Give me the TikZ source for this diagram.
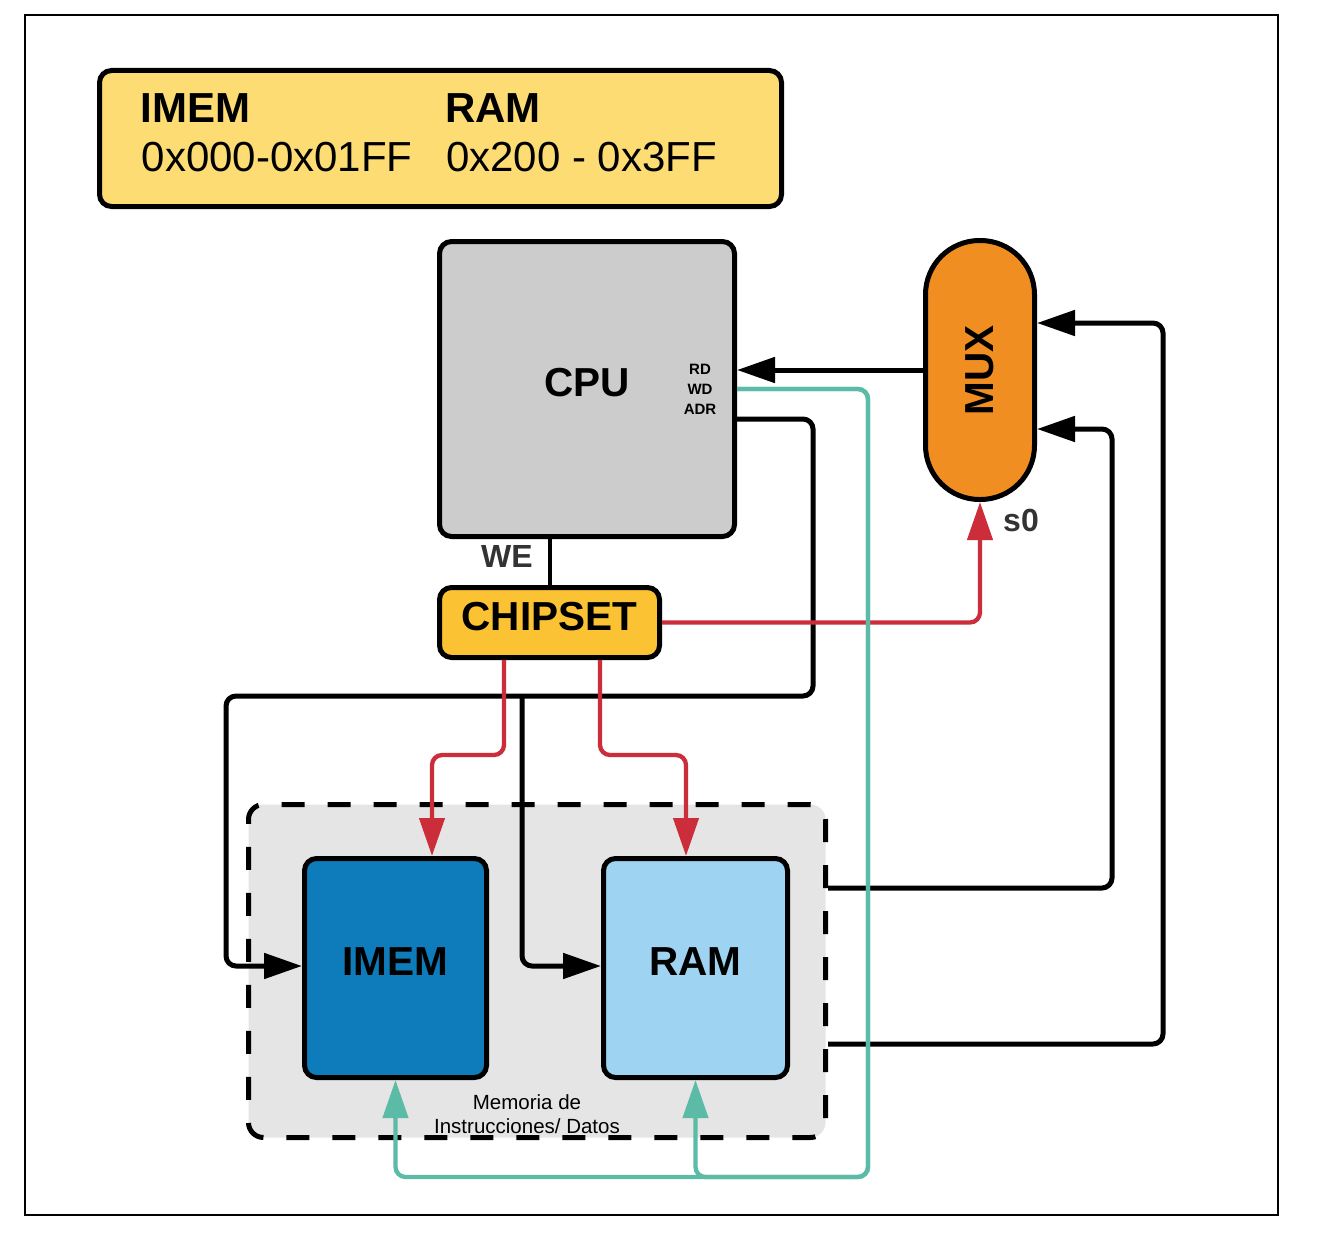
\documentclass[tikz,border=0pt]{standalone}
\usepackage{fontspec}
\setmainfont{Liberation Sans}
\usetikzlibrary{arrows.meta,positioning,calc}
\definecolor{infoyellow}{HTML}{FDDC74}
\definecolor{cpugray}{HTML}{CCCCCC}
\definecolor{muxorange}{HTML}{F08E22}
\definecolor{chipyellow}{HTML}{FBC334}
\definecolor{imemblue}{HTML}{0E7CBA}
\definecolor{ramblue}{HTML}{9ED3F2}
\definecolor{memgray}{HTML}{E5E5E5}
\definecolor{selred}{HTML}{CC2D3A}
\definecolor{datateal}{HTML}{5BBBA6}
\definecolor{labelgray}{HTML}{333333}
\tikzset{
block/.style = {draw, line width=5pt, rectangle, rounded corners=12pt, inner sep=0pt, text depth=13pt, font=\fontsize{40.5}{48}\selectfont\bfseries},
container/.style = {draw, fill=memgray, line width=5pt, dash pattern=on 23pt off 23pt, rounded corners=15pt},
maptitle/.style = {anchor=base west, inner sep=0pt, font=\fontsize{42}{48}\selectfont\bfseries},
maprange/.style = {anchor=base west, inner sep=0pt, font=\fontsize{42}{48}\selectfont},
pinlabel/.style = {inner sep=0pt, font=\fontsize{15}{20}\selectfont\bfseries},
sig/.style = {inner sep=0pt, text=labelgray, font=\fontsize{32}{38}\selectfont\bfseries},
tmp/.style = {coordinate},
wire/.style = {line width=5pt, rounded corners=10pt},
selwire/.style = {line width=4.3pt, draw=selred, rounded corners=10pt},
datawire/.style = {line width=4.3pt, draw=datateal, rounded corners=10pt}
}
\begin{document}
\begin{tikzpicture}[x=1pt, y=-1pt, >={Triangle[length=38pt,width=25pt]}]
  \useasboundingbox (0,0) rectangle (1326,1239);
  \fill [white] (0,0) rectangle (1326,1239);
  \draw [line width=2pt] (25,15) rectangle (1278,1215);

  % memory map
  \node [draw, line width=5pt, fill=infoyellow, rounded corners=12pt, minimum width=682pt, minimum height=136pt] (info) at (440.5,138.5) {};
  \node [maptitle] (imemtitle) at (140.5,122) {IMEM};
  \node [maprange] (imemrange) at (141.5,171) {0x000-0x01FF};
  \node [maptitle] (ramtitle) at (445,122) {RAM};
  \node [maprange] (ramrange) at (446,171) {0x200 - 0x3FF};

  % blocks
  \node [block, fill=cpugray, minimum width=295pt, minimum height=295pt, text depth=14pt] (cpu) at (587,389) {CPU};
  \node [pinlabel] (rd)  at (700,369) {RD};
  \node [pinlabel] (wd)  at (700,389) {WD};
  \node [pinlabel] (adr) at (700,409) {ADR};
  \node [block, fill=muxorange, rounded corners=54pt, minimum width=109pt, minimum height=259pt, text depth=0pt] (mux) at (980,370) {\rotatebox{90}{MUX}};
  \node [sig] (s0) at (1021,520) {s0};
  \node [block, fill=chipyellow, minimum width=220pt, minimum height=70pt] (chipset) at (549.5,622.5) {CHIPSET};
  \node [sig] (we) at (507,556) {WE};
  \node [container, minimum width=577pt, minimum height=333pt] (mem) at (537,971) {};
  \node [block, fill=imemblue, minimum width=182pt, minimum height=219pt] (imem) at (395.5,968) {IMEM};
  \node [block, fill=ramblue, minimum width=184pt, minimum height=219pt] (ram) at (695.5,968) {RAM};
  \node [align=center, inner sep=0pt, font=\fontsize{20.5}{24.5}\selectfont] (memlbl) at (527,1114) {Memoria de\\Instrucciones/ Datos};
  \node [tmp] (adrtap) at (522,696) {};

  % black wires
  \draw [wire, ->] (mux.west |- 0,370) -- (cpu.east |- 0,370);
  \draw [line width=4pt] (chipset.north) -- (chipset.north |- cpu.south);
  \draw [wire, ->] (cpu.east |- 0,419) -| (813,696) -| (226,966) -- (imem.west |- 0,966);
  \draw [wire, ->] (adrtap) |- (ram.west |- 0,966);
  \draw [wire, ->] (mem.east |- 0,888) -| (1112,429) -- (mux.east |- 0,429);
  \draw [wire, ->] (mem.east |- 0,1044) -| (1163,323) -- (mux.east |- 0,323);

  % red wires
  \draw [selwire, ->] (chipset.south -| 504,0) -- (504,755) -| (imem.north -| 432,0);
  \draw [selwire, ->] (chipset.south -| 600,0) -- (600,755) -| (ram.north -| 686,0);
  \draw [selwire, ->] (chipset.east) -| (mux.south);

  % teal wires
  \draw [datawire, ->] (cpu.east |- 0,389) -| (868,1177) -| (imem.south);
  \draw [datawire, ->] (cpu.east |- 0,389) -| (868,1177) -| (ram.south);
\end{tikzpicture}
\end{document}
